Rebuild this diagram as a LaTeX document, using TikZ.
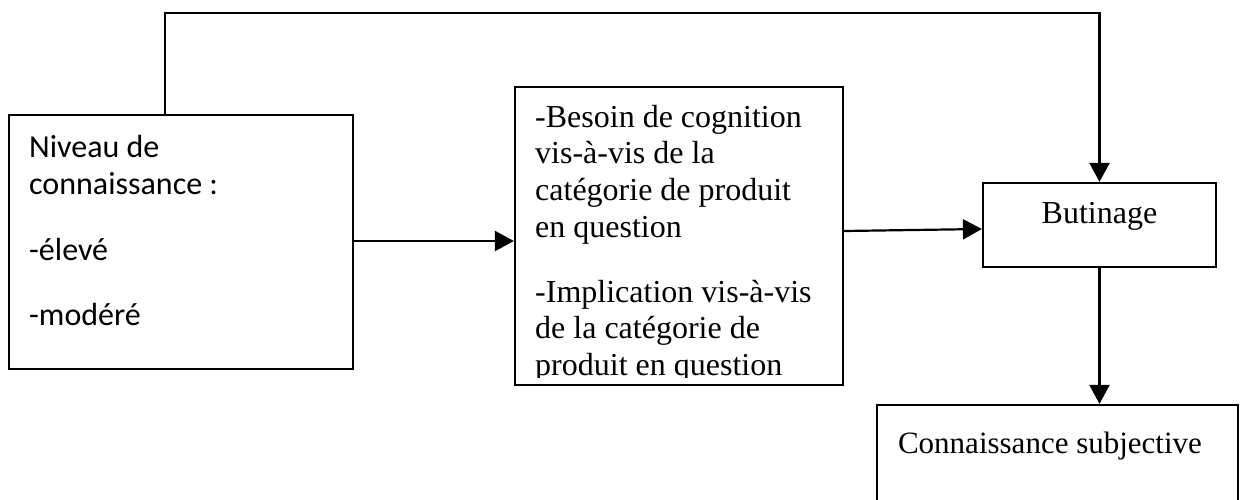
\documentclass[tikz,border=0pt]{standalone}
\usepackage{fontspec}
\setmainfont{Liberation Serif}
\newfontfamily\calfont{Carlito}
\usetikzlibrary{arrows.meta}
\tikzset{
  box/.style={draw, line width=2.2pt, inner sep=0pt, rectangle},
  conn/.style={line width=2.2pt, -{Triangle[length=19pt,width=20pt]}},
  serif/.style={font=\fontsize{32}{36.8}\selectfont, inner sep=0pt},
  sans/.style={font=\calfont\fontsize{32}{36.8}\selectfont, inner sep=0pt},
}
\begin{document}
\begin{tikzpicture}[x=1pt, y=-1pt]
\useasboundingbox (0,0) rectangle (1240,499);
\clip (0,0) rectangle (1240,499);
\fill[white] (0,0) rectangle (1240,499);

% boxes
\node[box, minimum width=344pt, minimum height=254pt] (lev) at (181,242) {};
\node[box, minimum width=328pt, minimum height=298pt] (mid) at (679,236) {};
\node[box, minimum width=233pt, minimum height=84pt] (but) at (1099.5,225) {};
\node[box, minimum width=361pt, minimum height=140pt] (con) at (1057.5,475) {};

% left box text
\foreach \t/\yy [count=\i] in {Niveau de/157, connaissance :/194, -élevé/260, -modéré/325}
  \node[sans, anchor=base west] (lt\i) at (29,\yy) {\t};

% middle box text, last line cut at the frame
\begin{scope}
\clip (515,87) rectangle (843,377);
\foreach \t/\yy [count=\i] in {-Besoin de cognition/127, vis-à-vis de la/163, catégorie de produit/200, en question/237, -Implication vis-à-vis/302, de la catégorie de/338, produit en question/375}
  \node[serif, anchor=base west] (mt\i) at (535,\yy) {\t};
\end{scope}

\node[serif, anchor=base] (butt) at (1099.5,223) {Butinage};
\node[serif, anchor=base, font=\fontsize{31}{35.6}\selectfont] (cont) at (1050,453) {Connaissance subjective};

% connectors
\coordinate (top) at (165,13);
\draw[conn] (lev.north -| top) -- (top) -| (but.north);
\draw[conn] (lev.east |- 0,241) -- (mid.west |- 0,241);
\draw[conn] (mid.east |- 0,231) -- (but.west |- 0,229);
\draw[conn] (but.south) -- (but.south |- con.north);
\end{tikzpicture}
\end{document}
